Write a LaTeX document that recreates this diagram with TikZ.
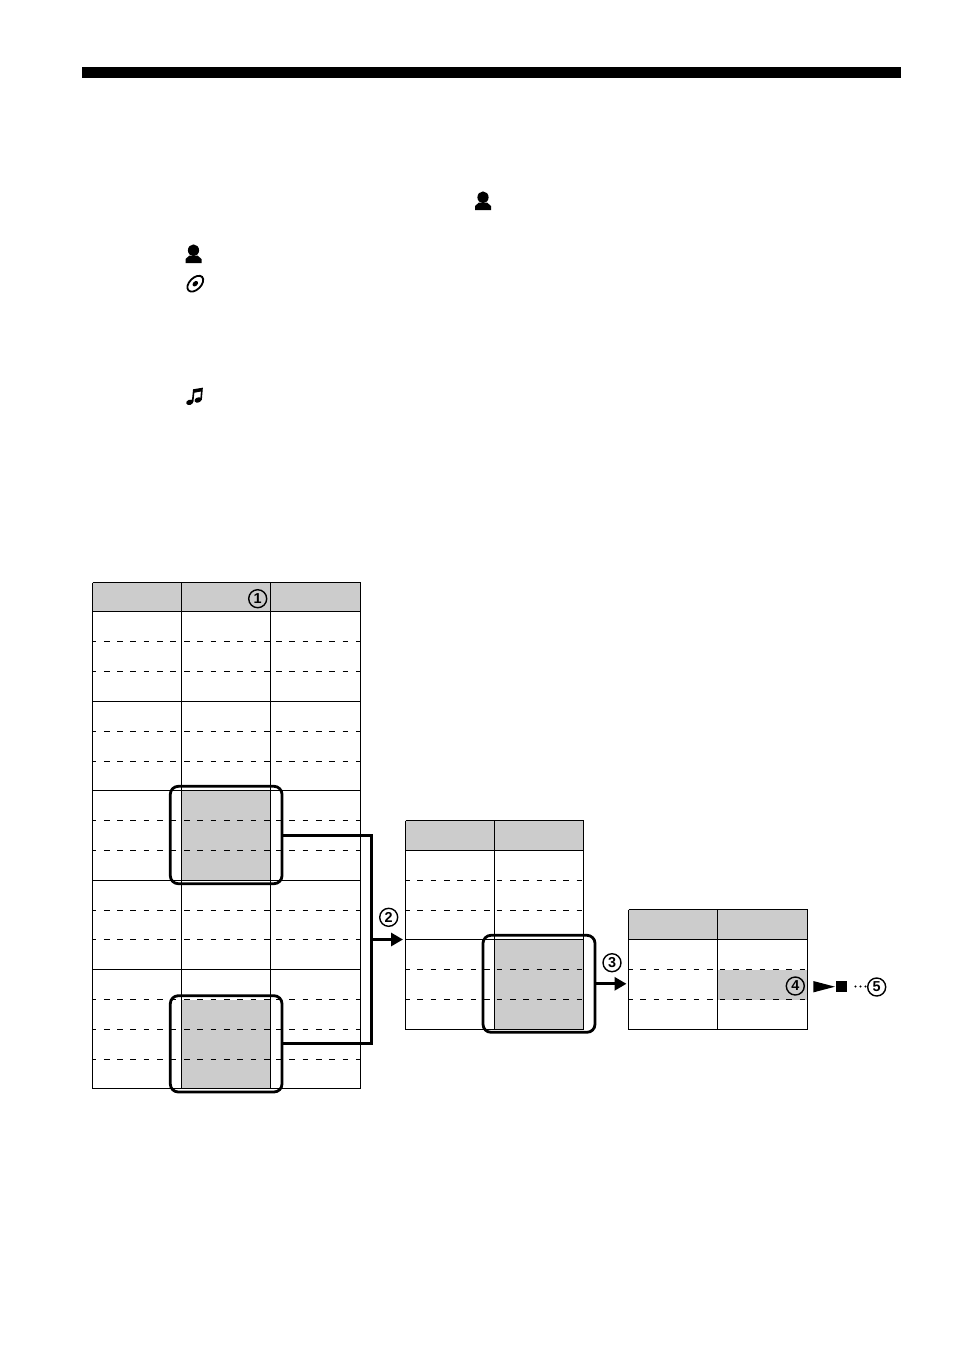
\documentclass[tikz,border=0pt]{standalone}
\usepackage{fontspec}
\setmainfont{Liberation Sans}
\usetikzlibrary{arrows.meta}
\definecolor{cellgray}{gray}{0.8}
\tikzset{
 x=0.5pt,y=-0.5pt,
 solidline/.style={line width=0.8pt,black},
 dashline/.style={line width=0.7pt,black,dash pattern=on 2.85pt off 3.8pt},
 groupbox/.style={draw=black,line width=1.4pt,rounded corners=4pt,inner sep=0pt,fill=none},
 flow/.style={line width=1.5pt,black},
 flowarrow/.style={line width=1.5pt,black,-{Triangle[length=6pt,width=6.5pt]}},
 num/.style={circle,draw=black,line width=0.7pt,inner sep=0pt,minimum size=9pt,font=\bfseries\fontsize{7.2}{7.2}\selectfont},
}
\newcommand{\personicon}[2]{%
 \fill[black] (#1,#2-3.7) ellipse[x radius=5.6,y radius=5.9];
 \fill[black] (#1-4,#2+1.5) -- (#1+4,#2+1.5) -- (#1+8,#2+5) -- (#1+8,#2+9) -- (#1-8,#2+9) -- (#1-8,#2+5) -- cycle;
}
\newcommand{\dashrow}[4]{% y, from, to, phase (pt)
 \draw[dashline,dash phase=#4] (#2,#1) -- (#3,#1);
}
\begin{document}
\begin{tikzpicture}
\useasboundingbox (0,0) rectangle (954,1356);
\fill[black] (82,67) rectangle (901,78);
% icons
\personicon{483}{201}
\personicon{193.5}{254}
\draw[black,line width=0.9pt,rotate around={45:(195.3,283.7)}] (195.3,283.7) ellipse[x radius=9.6,y radius=5.8];
\fill[black,rotate around={45:(195.3,283.7)}] (195.3,283.7) ellipse[x radius=3.2,y radius=2.3];
% notes
\fill[black,rotate around={20:(189.7,402.3)}] (189.7,402.3) ellipse[x radius=3.6,y radius=2.6];
\fill[black,rotate around={20:(198,400)}] (198,400) ellipse[x radius=3.6,y radius=2.6];
\draw[black,line width=0.8pt] (192.6,402) -- (193.8,390) -- (202,388.6) -- (201,400);
\draw[black,line width=1.3pt] (193.8,391.5) -- (202,390);
% table 1 fills
\fill[cellgray] (92.5,582.5) rectangle (360.5,611.5);
\fill[cellgray] (181.5,790.5) rectangle (270.5,880.5);
\fill[cellgray] (181.5,999.5) rectangle (270.5,1088.5);
% table 1 dashed
\foreach \yy in {641.5,671.5,731.5,761.5,820.5,850.5,910.5,939.5,999.5,1029.5,1059.5}{
 \dashrow{\yy}{92.5}{178}{1pt}
 \dashrow{\yy}{184}{270}{0pt}
 \dashrow{\yy}{276}{360.5}{0pt}
}
% table 1 solid
\foreach \yy in {582.5,611.5,701.5,790.5,880.5,969.5,1088.5}{
 \draw[solidline] (92.5,\yy) -- (360.5,\yy);
}
\foreach \xx in {92.5,181.5,270.5,360.5}{
 \draw[solidline] (\xx,582.5) -- (\xx,1088.5);
}
% table 2
\fill[cellgray] (405.5,820.5) rectangle (583.5,850.5);
\fill[cellgray] (494.5,939.5) rectangle (583.5,1029.5);
\foreach \yy in {880.5,910.5,969.5,999.5}{
 \dashrow{\yy}{405.5}{491}{0.75pt}
 \dashrow{\yy}{496.7}{583}{0pt}
}
\foreach \yy in {820.5,850.5,939.5,1029.5}{
 \draw[solidline] (405.5,\yy) -- (583.5,\yy);
}
\foreach \xx in {405.5,494.5,583.5}{
 \draw[solidline] (\xx,820.5) -- (\xx,1029.5);
}
% table 3
\fill[cellgray] (628.5,909.5) rectangle (807.5,939.5);
\fill[cellgray] (717.5,969.5) rectangle (807.5,999.5);
\foreach \yy in {969.5,999.5}{
 \dashrow{\yy}{628.5}{714}{0.75pt}
 \dashrow{\yy}{719.7}{807}{0pt}
}
\foreach \yy in {909.5,939.5,1029.5}{
 \draw[solidline] (628.5,\yy) -- (807.5,\yy);
}
\foreach \xx in {628.5,717.5,807.5}{
 \draw[solidline] (\xx,909.5) -- (\xx,1029.5);
}
% group boxes
\node[groupbox,minimum width=55.85pt,minimum height=48.7pt] (boxA) at (226.15,835) {};
\node[groupbox,minimum width=55.85pt,minimum height=48.15pt] (boxB) at (226.15,1043.85) {};
\node[groupbox,minimum width=56pt,minimum height=48.5pt] (boxC) at (539,983.8) {};
% connectors
\coordinate (join) at (371.7,939.5);
\coordinate (tableBin) at (403,939.5);
\coordinate (tableCin) at (626.5,983.8);
\draw[flow,line join=miter] (boxA.east) -| (join) |- (boxB.east);
\draw[flowarrow] (join) -- (tableBin);
\draw[flowarrow] (boxC.east) -- (tableCin);
% numbers
\node[num] (n1) at (257.7,598.7) {1};
\node[num] (n2) at (388.7,917.3) {2};
\node[num] (n3) at (612,962.7) {3};
\node[num] (n4) at (795.3,986) {4};
\node[num] (n5) at (876.7,987) {5};
% play stop
\fill[black] (813.3,981) -- (835,986.7) -- (813.3,992.4) -- cycle;
\fill[black] (836.3,981) rectangle (847,992.3);
\foreach \xx in {855.5,860.5,865.5}{\fill[black] (\xx,986.5) circle[radius=1.1];}
\end{tikzpicture}
\end{document}
